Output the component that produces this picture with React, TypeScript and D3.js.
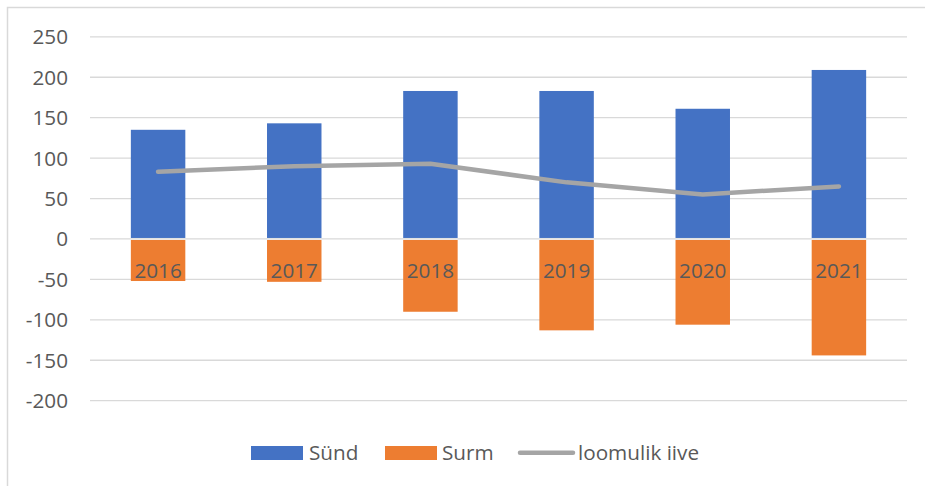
import React from "react";
import * as d3 from "d3";

const years = ["2016", "2017", "2018", "2019", "2020", "2021"];
const synd = [135, 143, 183, 183, 161, 209];
const surm = [-52, -53, -90, -113, -106, -144];
const iive = [83, 90, 93, 70, 55, 65];
const yTicks = [250, 200, 150, 100, 50, 0, -50, -100, -150, -200];

const W = 925;
const H = 486;
const FONT = "'Open Sans', sans-serif";
const TXT = "#595959";
const FS = 20.7;

export default function App() {
  const x = d3
    .scaleBand<string>()
    .domain(years)
    .range([90, 907])
    .paddingInner(0.6)
    .paddingOuter(0.3);
  const y = d3.scaleLinear().domain([-200, 250]).range([400.7, 36.8]);
  const bw = x.bandwidth();
  const cx = (d: string) => (x(d) as number) + bw / 2;

  const line = d3
    .line<number>()
    .x((_, i) => cx(years[i]))
    .y((d) => y(d));

  return (
    <svg
      width={W}
      height={H}
      style={{ position: "absolute", left: 0, top: 0, background: "#fff" }}
      fontFamily={FONT}
    >
      <rect x={7.5} y={7.5} width={W + 10} height={H + 10} fill="#fff" stroke="#D9D9D9" strokeWidth={1.5} />
      {yTicks.map((t) => (
        <g key={t}>
          <line x1={90} x2={907} y1={y(t)} y2={y(t)} stroke="#D9D9D9" strokeWidth={1.3} />
          <text x={68} y={y(t)} dy="0.36em" textAnchor="end" fontSize={FS} fill={TXT}>
            {t}
          </text>
        </g>
      ))}
      {years.map((yr, i) => (
        <g key={yr}>
          <rect x={x(yr)} y={y(synd[i])} width={bw} height={y(0) - y(synd[i]) - 1} fill="#4472C4" />
          <rect x={x(yr)} y={y(0) + 1} width={bw} height={y(surm[i]) - y(0) - 1} fill="#ED7D31" />
        </g>
      ))}
      {years.map((yr) => (
        <text key={"l" + yr} x={cx(yr)} y={277.5} textAnchor="middle" fontSize={FS} fill={TXT}>
          {yr}
        </text>
      ))}
      <path
        d={line(iive) as string}
        fill="none"
        stroke="#A5A5A5"
        strokeWidth={4.5}
        strokeLinecap="round"
        strokeLinejoin="round"
      />
      <g>
        <rect x={251} y={446} width={52} height={14} fill="#4472C4" />
        <text x={309} y={459.5} fontSize={FS} fill={TXT}>Sünd</text>
        <rect x={385} y={446} width={52} height={14} fill="#ED7D31" />
        <text x={442} y={459.5} fontSize={FS} fill={TXT}>Surm</text>
        <line x1={520} x2={573} y1={452.7} y2={452.7} stroke="#A5A5A5" strokeWidth={4.5} strokeLinecap="round" />
        <text x={578} y={459.5} fontSize={FS} fill={TXT}>loomulik iive</text>
      </g>
    </svg>
  );
}
